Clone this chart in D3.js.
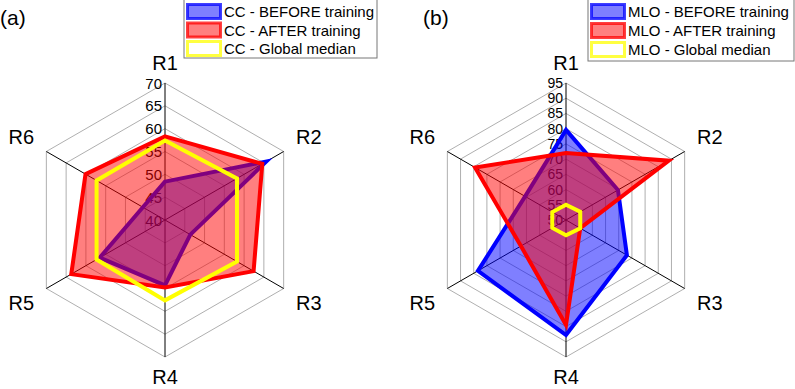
<!DOCTYPE html>
<html>
<head>
<meta charset="utf-8">
<script src="https://cdn.jsdelivr.net/npm/d3@7"></script>
<style>
  body { margin: 0; background: #fff; }
  svg { display: block; font-family: Arial, "Liberation Sans", sans-serif; }
</style>
</head>
<body>
<div id="chart"></div>
<script>
const W = 795, H = 389;

// axes / categories
const axesNames = ["R1", "R2", "R3", "R4", "R5", "R6"];

// panel (a) CC
const ccTicks = [40, 45, 50, 55, 60, 65, 70];
const ccBefore = [48.4, 65.6, 46.4, 54.3, 56.5, 45.6];
const ccAfter = [58.3, 64.6, 62.4, 54.8, 63.7, 60.1];
const ccMedian = [57.4, 58.2, 58.2, 57.6, 57.3, 57.3];
const ccNames = ["CC - BEFORE training", "CC - AFTER training", "CC - Global median"];

// panel (b) MLO
const mloTicks = [50, 55, 60, 65, 70, 75, 80, 85, 90, 95];
const mloBefore = [79.6, 69.7, 73.1, 87.8, 83.4, 65.5];
const mloAfter = [72, 89, 55.4, 84.5, 67.1, 84.5];
const mloMedian = [55, 55.4, 55.4, 55, 55.2, 55.2];
const mloNames = ["MLO - BEFORE training", "MLO - AFTER training", "MLO - Global median"];

const svg = d3.select("#chart").append("svg")
    .attr("width", W).attr("height", H)

const styles = [
    { fill: "rgba(0,0,255,0.5)", stroke: "#0000ff" },
    { fill: "rgba(255,0,0,0.5)", stroke: "#ff0000" },
    { fill: "none", stroke: "#ffff00" }
]

function drawRadar(cx, cy, ticks, series, names, tag, tagX, legend, tickSize) {
    const g = svg.append("g")
    const R = 137
    const r = d3.scaleLinear().domain([ticks[0], ticks[ticks.length - 1]]).range([0, R])
    const ang = i => i * Math.PI / 3
    const pt = (i, rad) => [cx + rad * Math.sin(ang(i)), cy - rad * Math.cos(ang(i))]

    // grid hexagons
    ticks.slice(1).forEach(t => {
        g.append("polygon")
            .attr("points", axesNames.map((d, i) => pt(i, r(t)).join(",")).join(" "))
            .attr("fill", "none").attr("stroke", "#9a9a9a").attr("stroke-width", 0.8)
    })
    // spokes
    axesNames.forEach((d, i) => {
        const p = pt(i, R)
        g.append("line").attr("x1", cx).attr("y1", cy).attr("x2", p[0]).attr("y2", p[1])
            .attr("stroke", "#000").attr("stroke-width", 1)
    })
    // tick labels
    ticks.forEach(t => {
        g.append("text").attr("x", cx - 3).attr("y", cy - r(t))
            .attr("text-anchor", "end").attr("dominant-baseline", "central")
            .attr("font-size", tickSize).attr("fill", "#000").text(t)
    })
    // axis names
    axesNames.forEach((d, i) => {
        const p = pt(i, (i % 3 === 0) ? 157 : 166)
        g.append("text").attr("x", p[0]).attr("y", p[1])
            .attr("text-anchor", "middle").attr("dominant-baseline", "central")
            .attr("font-size", "20px").attr("fill", "#000").text(d)
    })

    const line = d3.lineRadial()
        .angle((d, i) => ang(i))
        .radius(d => r(d))
        .curve(d3.curveLinearClosed)

    series.forEach((s, k) => {
        g.append("path").datum(s)
            .attr("transform", `translate(${cx},${cy})`)
            .attr("d", line)
            .attr("fill", styles[k].fill)
            .attr("stroke", styles[k].stroke)
            .attr("stroke-width", 4)
            .attr("stroke-linejoin", "miter")
    })

    // panel tag
    svg.append("text").attr("x", tagX).attr("y", 17)
        .attr("dominant-baseline", "central")
        .attr("font-size", "21px").text(tag)

    // legend
    const lg = svg.append("g")
    lg.append("rect").attr("x", legend.x).attr("y", -1)
        .attr("width", legend.w).attr("height", legend.h)
        .attr("fill", "#fff").attr("stroke", "#777").attr("stroke-width", 1)
    names.forEach((n, k) => {
        const y = 3 + k * legend.pitch
        lg.append("rect").attr("x", legend.x + 3.5).attr("y", y + 1.5)
            .attr("width", 33).attr("height", 14)
            .attr("fill", k === 2 ? "#fff" : styles[k].fill)
            .attr("stroke", styles[k].stroke).attr("stroke-width", 3).attr("stroke-opacity", 0.75)
        lg.append("text").attr("x", legend.x + 40).attr("y", y + 8.5)
            .attr("dominant-baseline", "central")
            .attr("font-size", "15px").attr("fill", "#000").text(n)
    })
}

drawRadar(165, 220, ccTicks, [ccBefore, ccAfter, ccMedian], ccNames, "(a)", 0,
    { x: 184, w: 193, h: 59, pitch: 18.5 }, "15px")
drawRadar(566, 220, mloTicks, [mloBefore, mloAfter, mloMedian], mloNames, "(b)", 423,
    { x: 588, w: 206, h: 62, pitch: 19 }, "14px")
</script>
</body>
</html>
